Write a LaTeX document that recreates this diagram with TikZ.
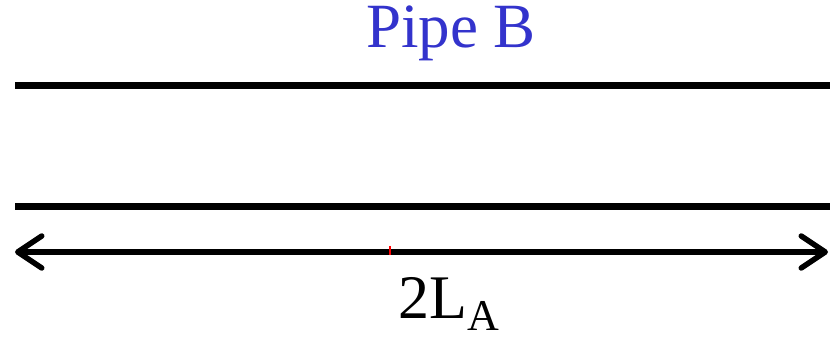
\documentclass[tikz,border=0pt]{standalone}
\usepackage{fontspec}
\setmainfont{Liberation Serif}
\usepackage{xcolor}
\usetikzlibrary{arrows.meta, positioning}
\definecolor{PipeBlue}{HTML}{3333CC}

\begin{document}
\begin{tikzpicture}[
  x=1pt, y=-1pt,
  title/.style={font=\fontsize{63}{65}\selectfont, PipeBlue, anchor=base, inner sep=0pt},
  dimlabel/.style={font=\fontsize{62}{64}\selectfont, anchor=base west, inner sep=0pt},
  wall/.style={line width=7pt, black},
  dimarrow/.style={{Straight Barb[length=24pt, width=32pt, round]}-{Straight Barb[length=24pt, width=32pt, round]}, line width=5.5pt, black},
  midtick/.style={line width=2pt, red}
]
\useasboundingbox (0,0) rectangle (830,339);

% Title
\node[title] (pipe) at (451,48) {Pipe B};

% Pipe walls
\coordinate (topL) at (15,86);
\coordinate (topR) at (830,86);
\coordinate (botL) at (15,207);
\coordinate (botR) at (830,207);
\draw[wall] (topL) -- (topR);
\draw[wall] (botL) -- (botR);

% Length arrow
\coordinate (arrL) at (15,252);
\coordinate (arrR) at (828,252);
\draw[dimarrow] (arrL) -- (arrR);
\draw[midtick] (390,246) -- (390,255);

% Length label
\node[dimlabel] (len) at (398,318) {2L\raisebox{-12pt}{\fontsize{44}{44}\selectfont A}};

\end{tikzpicture}
\end{document}
